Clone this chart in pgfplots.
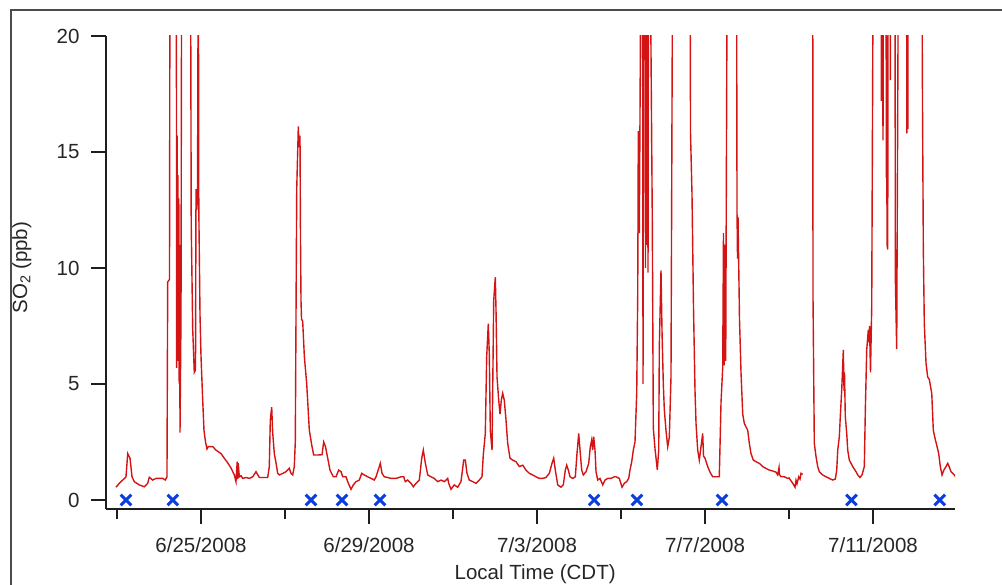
\documentclass[border=0pt]{standalone}
\usepackage{pgfplots}
\pgfplotsset{compat=1.18}
\usepackage{fontspec}
\setmainfont{Liberation Sans}
\definecolor{so2red}{RGB}{212,20,20}
\definecolor{mkblue}{RGB}{12,62,222}
\definecolor{axgray}{RGB}{30,30,30}
\begin{document}
\begin{tikzpicture}[x=1pt,y=1pt]
\begin{axis}[
  at={(0,0)}, anchor=south west,
  scale only axis, width=849pt, height=473pt,
  xmin=-0.262, xmax=19.952, ymin=-0.388, ymax=20,
  axis x line*=bottom, axis y line*=left,
  axis line style={-, line width=1.8pt, axgray},
  xtick={2,6,10,14,18},
  xticklabels={6/25/2008,6/29/2008,7/3/2008,7/7/2008,7/11/2008},
  minor xtick={0,4,8,12,16},
  ytick={0,5,10,15,20},
  tick align=outside,
  major tick length=15pt, minor tick length=10pt,
  tick style={line width=1.5pt, axgray},
  /pgf/number format/assume math mode=true,
  tick label style={font=\fontsize{20.5}{24}\selectfont, text=black!85},
  xticklabel style={yshift=-10pt},
  yticklabel style={xshift=-8pt},
  label style={font=\fontsize{20.5}{24}\selectfont, text=black!85},
  xlabel={Local Time (CDT)},
  xlabel style={at={(axis description cs:0.5055,0)}, anchor=base, yshift=-70.5pt},
  ylabel={SO\textsubscript{2} (ppb)},
  ylabel style={at={(axis description cs:-0.099,0.51)}, anchor=center},
  unbounded coords=jump,
  clip=true,
]
\addplot[so2red, line width=1.4pt] table {
x y
-0.024 0.55
0.055 0.72
0.136 0.86
0.214 1.0
0.255 2.0
0.310 1.8
0.357 1.0
0.412 0.79
0.531 0.65
0.650 0.57
0.731 0.72
0.769 0.98
0.850 0.86
0.929 0.93
1.088 0.93
1.150 0.86
1.190 1.0
1.207 9.4
1.250 9.5
1.262 25
1.412 25
1.421 5.7
1.433 15.7
1.443 7
1.452 14
1.462 6
1.471 13
1.481 5
1.490 11
1.500 2.9
1.524 8
1.540 25
1.738 25
1.757 19.6
1.767 11.9
1.802 7.4
1.840 5.5
1.869 5.6
1.881 13.4
1.898 12.5
1.917 13
1.936 25
1.948 12.5
1.976 8
2.000 6.2
2.036 4.5
2.071 3.0
2.107 2.5
2.143 2.2
2.174 2.3
2.279 2.3
2.357 2.15
2.476 2.0
2.555 1.8
2.636 1.6
2.714 1.38
2.793 1.08
2.833 0.79
2.862 1.65
2.874 0.9
2.886 1.6
2.912 1.0
2.952 1.05
2.993 0.93
3.071 0.97
3.150 0.93
3.231 1.0
3.310 1.22
3.388 0.97
3.500 0.97
3.588 0.97
3.626 1.44
3.650 3.45
3.683 4.0
3.707 2.9
3.745 2.0
3.786 1.6
3.826 1.15
3.864 1.08
3.952 1.15
4.024 1.22
4.102 1.37
4.143 1.15
4.183 1.08
4.221 1.44
4.245 2.5
4.279 13.4
4.317 16.1
4.333 15.2
4.357 15.7
4.369 11.2
4.381 8.6
4.393 7.8
4.421 7.7
4.460 6.2
4.517 5.0
4.579 3.0
4.643 2.3
4.683 1.94
4.786 1.94
4.881 1.95
4.921 2.5
4.964 2.3
5.017 1.8
5.071 1.29
5.150 1.0
5.214 1.0
5.279 1.29
5.333 1.22
5.374 1.0
5.452 1.0
5.493 0.79
5.571 0.46
5.626 0.65
5.690 0.79
5.769 0.86
5.826 1.15
5.888 1.08
5.969 1.0
6.048 0.93
6.126 0.86
6.167 1.0
6.231 1.36
6.269 1.58
6.310 1.15
6.364 1.0
6.445 0.97
6.524 0.93
6.643 0.93
6.762 1.0
6.826 1.0
6.864 0.79
6.921 0.86
7.000 0.72
7.055 0.57
7.119 0.72
7.198 0.86
7.255 1.8
7.293 2.15
7.340 1.6
7.398 1.08
7.476 1.0
7.555 0.93
7.636 0.79
7.714 0.86
7.793 0.79
7.874 0.93
7.898 0.72
7.952 0.46
8.031 0.65
8.112 0.55
8.190 0.79
8.255 1.72
8.293 1.72
8.333 1.15
8.388 0.86
8.469 0.79
8.548 0.72
8.626 0.86
8.690 1.0
8.721 1.94
8.769 2.87
8.802 6.18
8.840 7.6
8.864 6.3
8.888 3.0
8.929 2.15
8.969 8.6
9.007 9.6
9.024 8.2
9.048 5.3
9.088 4.3
9.119 3.7
9.150 4.3
9.183 4.6
9.221 4.3
9.262 3.45
9.302 2.44
9.357 1.8
9.421 1.72
9.500 1.65
9.579 1.44
9.660 1.5
9.738 1.29
9.817 1.15
9.898 1.08
9.976 1.0
10.055 0.93
10.136 0.93
10.214 0.97
10.293 1.15
10.357 1.58
10.398 1.8
10.436 1.29
10.493 0.65
10.571 0.55
10.626 0.65
10.674 1.29
10.707 1.5
10.745 1.29
10.786 1.0
10.850 0.93
10.912 1.0
10.952 2.0
10.993 2.87
11.024 2.15
11.064 1.29
11.102 1.08
11.167 1.22
11.231 1.58
11.269 2.3
11.302 2.59
11.326 2.15
11.350 2.73
11.381 2.15
11.405 1.22
11.445 0.86
11.500 0.93
11.564 0.65
11.619 0.86
11.683 0.93
11.762 0.93
11.840 1.0
11.881 1.0
11.960 0.93
12.024 0.55
12.079 0.72
12.136 0.79
12.183 0.93
12.214 1.29
12.255 1.65
12.293 2.15
12.333 2.5
12.374 4.6
12.398 8.9
12.412 15.9
12.436 11.5
12.452 16.5
12.476 25
12.512 25
12.524 5.0
12.540 25
12.571 25
12.583 10
12.595 25
12.607 11
12.619 25
12.643 9.8
12.655 25
12.690 25
12.745 12
12.769 3.1
12.810 2.2
12.864 1.3
12.898 2.15
12.912 6.6
12.952 9.9
12.976 7.3
13.007 5.0
13.031 3.9
13.071 3.0
13.112 2.3
13.150 2.7
13.190 5.3
13.231 25
13.643 25
13.655 15.8
13.690 13.2
13.726 8.3
13.762 4.7
13.786 3.3
13.826 2.15
13.864 1.72
13.905 2.3
13.945 2.87
13.964 1.9
14.000 1.8
14.064 1.44
14.119 1.2
14.183 1.0
14.262 1.0
14.340 1.0
14.381 4.2
14.421 5.7
14.440 11.5
14.457 5.8
14.476 11
14.493 6
14.507 13.2
14.531 25
14.750 25
14.762 12.4
14.774 10.4
14.786 12.2
14.802 10.2
14.821 7.8
14.857 5.5
14.898 3.7
14.936 3.3
15.017 3.0
15.055 2.44
15.095 2.0
15.150 1.72
15.214 1.65
15.293 1.58
15.374 1.44
15.452 1.36
15.531 1.29
15.612 1.25
15.690 1.2
15.731 1.08
15.762 1.4
15.774 1.1
15.810 1.0
15.888 1.0
15.969 0.93
16.000 0.95
16.088 0.72
16.143 0.55
16.167 0.85
16.190 0.7
16.231 1.0
16.262 0.9
16.286 1.15
16.326 1.1
nan nan
16.564 25
16.571 8.8
16.602 2.44
16.643 1.87
16.683 1.44
16.721 1.22
16.802 1.08
16.881 1.0
16.960 0.93
17.040 0.86
17.102 0.9
17.136 1.29
17.160 2.15
17.198 2.73
17.221 3.6
17.255 4.74
17.293 6.47
17.310 4.7
17.321 5.5
17.340 3.6
17.374 2.87
17.398 2.15
17.436 1.72
17.517 1.44
17.595 1.22
17.636 1.08
17.690 0.97
17.738 1.08
17.793 1.44
17.817 3.88
17.850 6.47
17.888 7.33
17.905 6.8
17.917 7.5
17.940 5.5
17.969 8.3
18.007 25
18.190 25
18.198 17.2
18.214 25
18.238 15.5
18.250 25
18.310 25
18.317 13.9
18.326 20
18.333 11
18.350 10.8
18.362 25
18.405 25
18.412 18.1
18.421 25
18.524 25
18.531 9.6
18.564 6.5
18.607 25
18.798 25
18.805 15.8
18.819 25
18.829 16
18.840 25
19.160 25
19.179 16.8
19.198 10.8
19.221 7.6
19.262 5.9
19.302 5.3
19.340 5.2
19.398 4.6
19.436 3.0
19.483 2.6
19.512 2.4
19.564 2.0
19.602 1.44
19.643 1.08
19.690 1.3
19.738 1.44
19.779 1.58
19.810 1.45
19.857 1.22
19.936 1.08
19.993 0.93
};
\addplot[only marks, mark=x, mark size=7.5pt, mkblue, line width=3pt] table {
x y
0.214 0
1.330 0
4.619 0
5.357 0
6.262 0
11.360 0
12.378 0
14.405 0
17.485 0
19.590 0
};
\end{axis}
\draw[line width=2pt, color=black!70] (-95,499) rectangle (920,-100);
\pgfresetboundingbox
\useasboundingbox (-106,-76) rectangle (896,509);
\end{tikzpicture}
\end{document}
